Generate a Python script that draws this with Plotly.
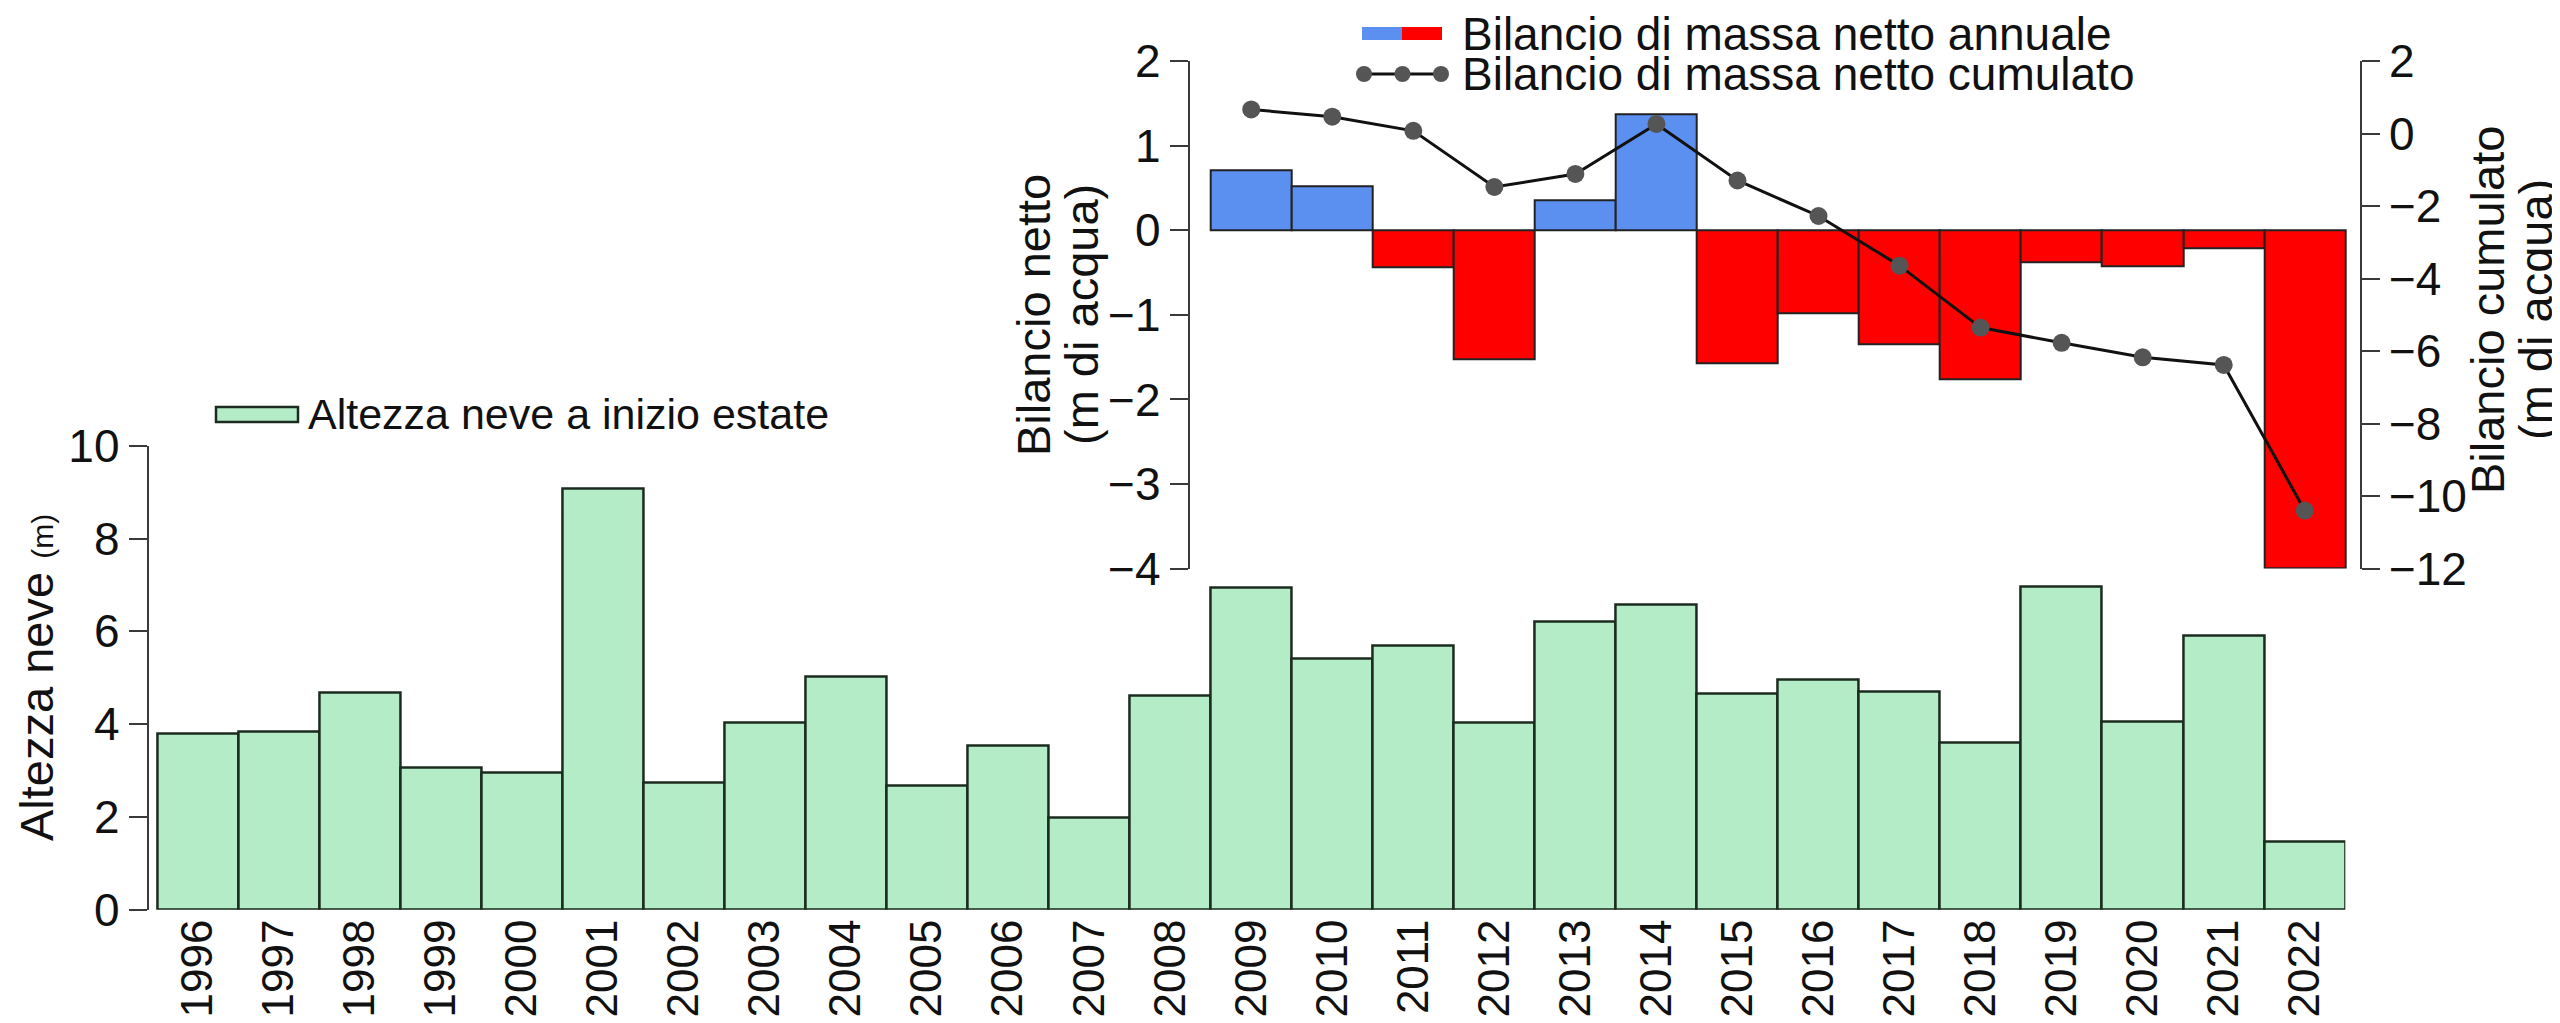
import plotly.graph_objects as go

# ---------------- data ----------------
years_snow = list(range(1996, 2023))
snow_height = [3.80, 3.83, 4.68, 3.07, 2.96, 9.07, 2.73, 4.04, 5.02, 2.67,
               3.54, 1.99, 4.61, 6.94, 5.41, 5.68, 4.02, 6.21, 6.57, 4.66,
               4.95, 4.69, 3.59, 6.97, 4.06, 5.91, 1.47]

years_mb = list(range(2009, 2023))
mb_annual = [0.71, 0.52, -0.44, -1.53, 0.35, 1.37, -1.57,
             -0.98, -1.35, -1.76, -0.38, -0.42, -0.21, -4.00]
mb_cumulative = [0.67, 0.47, 0.08, -1.47, -1.11, 0.27, -1.29,
                 -2.27, -3.64, -5.35, -5.77, -6.17, -6.38, -10.40]

snow_ticks = [0, 2, 4, 6, 8, 10]
net_ticks = [-4, -3, -2, -1, 0, 1, 2]
cum_ticks = [-12, -10, -8, -6, -4, -2, 0, 2]

# ---------------- styling ----------------
W, H = 2560, 1023
FONT = "Liberation Sans, Arial, sans-serif"
GREEN = "#b4ecc8"
BLUE = "#5b8ff0"
RED = "#ff0000"
GREY = "#555555"
AX = "#3a3a3a"


def fx(px):
    return px / W


def fy(py):
    return 1 - py / H


bar_w = 81.0
main_left_px, main_right_px = 140.7, 2337.3
first_bar_left = 149.3
x_lo = 1995.5 - (first_bar_left - main_left_px) / bar_w
inset_left_px, inset_right_px = 1181.7, 2351.7
inset_first_bar = 1202.7
x2_lo = 2008.5 - (inset_first_bar - inset_left_px) / bar_w
x2_hi = 2022.5 + (inset_right_px - 2337.3) / bar_w

fig = go.Figure()

fig.add_trace(go.Bar(
    x=years_snow, y=snow_height, width=1.0,
    marker=dict(color=GREEN, line=dict(color="#1c2b1f", width=2.5)),
    xaxis="x", yaxis="y", showlegend=False,
))

fig.add_trace(go.Bar(
    x=years_mb, y=mb_annual, width=1.0,
    marker=dict(color=[BLUE if v >= 0 else RED for v in mb_annual],
                line=dict(color="#222222", width=2)),
    xaxis="x2", yaxis="y2", showlegend=False,
))

fig.add_trace(go.Scatter(
    x=years_mb, y=mb_cumulative, mode="lines+markers",
    line=dict(color="#111111", width=3),
    marker=dict(color=GREY, size=18),
    xaxis="x2", yaxis="y3", showlegend=False,
))

tickfont = dict(family=FONT, size=46, color="#111111")

fig.update_layout(
    width=W, height=H,
    margin=dict(l=0, r=0, t=0, b=0, autoexpand=False),
    paper_bgcolor="white", plot_bgcolor="rgba(0,0,0,0)",
    bargap=0,
    xaxis=dict(
        domain=[fx(main_left_px), fx(main_right_px)],
        range=[x_lo, 2022.5],
        tickmode="array", tickvals=years_snow,
        ticktext=[str(y) for y in years_snow],
        tickangle=-90, ticks="", showline=False, showgrid=False,
        zeroline=False, tickfont=dict(family=FONT, size=44, color="#111111"),
        anchor="y", automargin=False,
    ),
    yaxis=dict(
        domain=[fy(901.7), fy(437.7)],
        range=[0, 10],
        tickmode="array", tickvals=snow_ticks,
        ticks="outside", ticklen=18, tickwidth=2, tickcolor=AX,
        showline=True, linecolor=AX, linewidth=2,
        showgrid=False, zeroline=False,
        tickfont=tickfont, anchor="x", automargin=False,
    ),
    xaxis2=dict(
        domain=[fx(inset_left_px), fx(inset_right_px)],
        range=[x2_lo, x2_hi],
        visible=False, anchor="y2", automargin=False,
    ),
    yaxis2=dict(
        domain=[fy(560.5), fy(53.3)],
        range=[-4, 2],
        tickmode="array", tickvals=net_ticks,
        ticks="outside", ticklen=18, tickwidth=2, tickcolor=AX,
        showline=True, linecolor=AX, linewidth=2,
        showgrid=False, zeroline=False,
        tickfont=tickfont, anchor="x2", automargin=False,
    ),
    yaxis3=dict(
        domain=[fy(560.5), fy(53.3)],
        range=[-12, 2],
        overlaying="y2", side="right", anchor="x2",
        tickmode="array", tickvals=cum_ticks,
        ticks="outside", ticklen=18, tickwidth=2, tickcolor=AX,
        showline=True, linecolor=AX, linewidth=2,
        showgrid=False, zeroline=False,
        tickfont=tickfont, automargin=False,
    ),
)

annotations = []
shapes = []

# axis titles
annotations.append(dict(
    xref="paper", yref="paper", x=fx(28), y=fy(670), textangle=-90,
    text="Altezza neve <span style='font-size:30px'>(m)</span>",
    showarrow=False, font=dict(family=FONT, size=47, color="#111111"),
    xanchor="center", yanchor="middle"))
annotations.append(dict(
    xref="paper", yref="paper", x=fx(1026), y=fy(307), textangle=-90,
    text="Bilancio netto", showarrow=False,
    font=dict(family=FONT, size=47, color="#111111"),
    xanchor="center", yanchor="middle"))
annotations.append(dict(
    xref="paper", yref="paper", x=fx(1074), y=fy(307), textangle=-90,
    text="(m di acqua)", showarrow=False,
    font=dict(family=FONT, size=47, color="#111111"),
    xanchor="center", yanchor="middle"))
annotations.append(dict(
    xref="paper", yref="paper", x=fx(2480), y=fy(302), textangle=-90,
    text="Bilancio cumulato", showarrow=False,
    font=dict(family=FONT, size=47, color="#111111"),
    xanchor="center", yanchor="middle"))
annotations.append(dict(
    xref="paper", yref="paper", x=fx(2528), y=fy(302), textangle=-90,
    text="(m di acqua)", showarrow=False,
    font=dict(family=FONT, size=47, color="#111111"),
    xanchor="center", yanchor="middle"))

# main legend
shapes.append(dict(type="rect", xref="paper", yref="paper",
                   x0=fx(208), x1=fx(290), y0=fy(414), y1=fy(399),
                   fillcolor=GREEN, line=dict(color="#1c2b1f", width=2.5)))
annotations.append(dict(
    xref="paper", yref="paper", x=fx(298), y=fy(406),
    text="Altezza neve a inizio estate", showarrow=False,
    font=dict(family=FONT, size=43, color="#111111"),
    xanchor="left", yanchor="middle"))

# inset legend
shapes.append(dict(type="rect", xref="paper", yref="paper",
                   x0=fx(1354), x1=fx(1394), y0=fy(32), y1=fy(19),
                   fillcolor=BLUE, line=dict(width=0)))
shapes.append(dict(type="rect", xref="paper", yref="paper",
                   x0=fx(1394), x1=fx(1434), y0=fy(32), y1=fy(19),
                   fillcolor=RED, line=dict(width=0)))
annotations.append(dict(
    xref="paper", yref="paper", x=fx(1452), y=fy(26),
    text="Bilancio di massa netto annuale", showarrow=False,
    font=dict(family=FONT, size=46, color="#111111"),
    xanchor="left", yanchor="middle"))
shapes.append(dict(type="line", xref="paper", yref="paper",
                   x0=fx(1356), x1=fx(1433), y0=fy(66), y1=fy(66),
                   line=dict(color="#111111", width=3)))
for cx in (1356, 1394.5, 1433):
    shapes.append(dict(type="circle", xref="paper", yref="paper",
                       x0=fx(cx - 8), x1=fx(cx + 8),
                       y0=fy(66 + 8), y1=fy(66 - 8),
                       fillcolor=GREY, line=dict(color=GREY, width=0)))
annotations.append(dict(
    xref="paper", yref="paper", x=fx(1452), y=fy(66),
    text="Bilancio di massa netto cumulato", showarrow=False,
    font=dict(family=FONT, size=46, color="#111111"),
    xanchor="left", yanchor="middle"))

fig.update_layout(annotations=annotations, shapes=shapes)

fig.write_html("out.html")
